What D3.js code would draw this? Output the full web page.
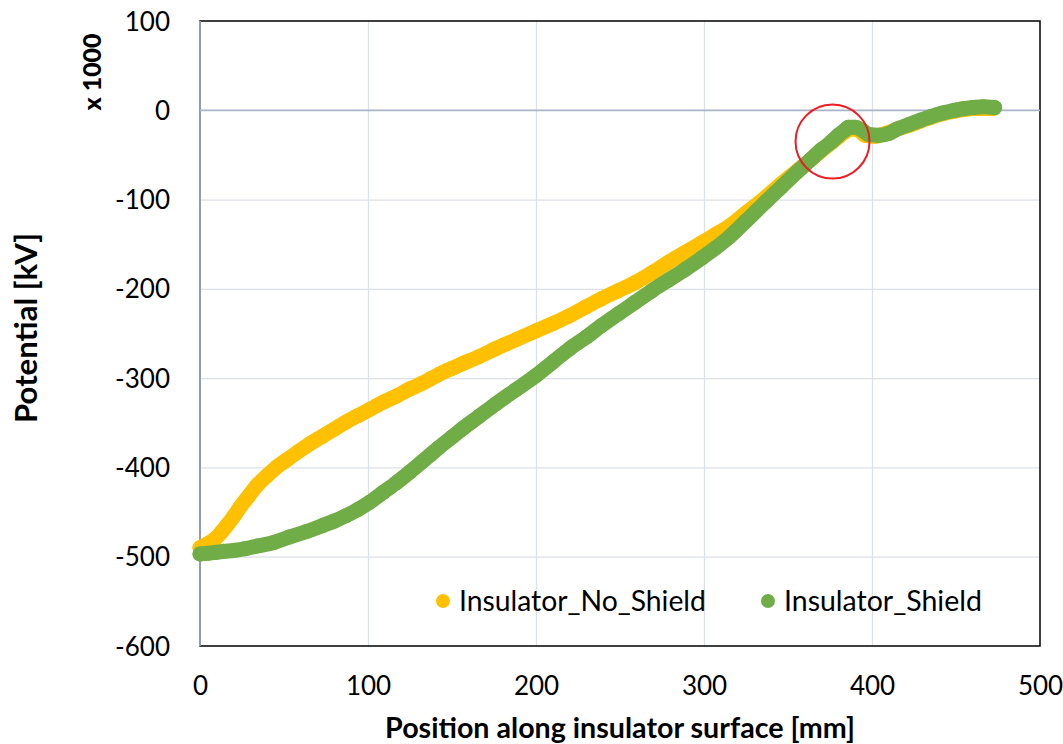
<!DOCTYPE html>
<html>
<head>
<meta charset="utf-8">
<script src="https://cdn.jsdelivr.net/npm/d3@7"></script>
<style>
  body { margin: 0; background: #fff; }
  text { font-family: Lato, "Open Sans", sans-serif; fill: #000; }
</style>
</head>
<body>
<div id="chartContainer"></div>
<script>
// series data, position [mm] and potential [kV x 1000]
let no_shield_x = [0, 4, 9, 13, 16, 20, 24, 29, 34, 40, 46, 52, 58, 65, 73, 80, 87, 94, 101, 109,
    117, 125, 132, 137, 142, 150, 156, 166, 176, 188, 200, 210, 220, 230, 239, 249, 259, 269, 279, 289,
    299, 307, 315, 325, 337, 345, 356, 363, 370, 376, 380, 384, 388, 392, 396, 402, 408, 415, 422, 429,
    435, 442, 449, 455, 460, 466, 472];
let no_shield_y = [-490, -486, -480, -472, -465, -455, -444, -432, -420, -409, -399, -391, -383, -374, -365, -357, -349, -342, -335, -327,
    -320, -312, -306, -301, -296, -289, -284, -276, -267, -257, -247, -239, -230, -220, -211, -202, -193, -182, -170, -159,
    -148, -139, -130, -115, -97, -84, -67, -56, -45, -36, -30, -24, -21, -22, -28, -29, -26, -21, -17, -12,
    -8, -4, -1, 1, 2, 2, 2];

let shield_x = [0, 5, 10, 14, 20, 27, 34, 44, 53, 63, 73, 80, 87, 94, 101, 109, 117, 125, 132, 137,
    142, 150, 156, 166, 176, 188, 200, 210, 220, 230, 239, 249, 259, 269, 279, 289, 299, 307, 315, 325,
    337, 346, 356, 363, 370, 376, 380, 384, 386, 390, 394, 398, 404, 410, 415, 422, 429, 435, 442, 449,
    455, 460, 466, 473];
let shield_y = [-497, -496, -495, -494, -493, -491, -488, -484, -478, -472, -465, -460, -454, -447, -439, -428, -417, -405, -394, -386,
    -378, -366, -357, -343, -329, -313, -297, -282, -267, -254, -241, -228, -215, -202, -190, -178, -165, -154, -142, -124,
    -102, -86, -68, -56, -44, -35, -28, -22, -19, -19, -22, -27, -28, -26, -21, -16, -11, -7, -3, 0,
    2, 3, 4, 3];

let series_names = ["Insulator_No_Shield", "Insulator_Shield"];
let series_colors = ["#FFC000", "#70AD47"];

// axis ticks
let x_ticks = [0, 100, 200, 300, 400, 500];
let y_ticks = [100, 0, -100, -200, -300, -400, -500, -600];

// highlighted point (red circle)
let mark_x = 376.5;
let mark_y = -35;

// chart properties
let BOX_WIDTH = 1063;
let BOX_HEIGHT = 744;
let LEFT = 200;
let RIGHT = 1040;
let TOP = 21;
let BOTTOM = 646;
let MARKER_R = 7.5;

const svg = d3.select("#chartContainer")
    .append("svg")
    .attr("width", BOX_WIDTH)
    .attr("height", BOX_HEIGHT);

const xScale = d3.scaleLinear()
    .domain([0, 500])
    .range([LEFT, RIGHT]);

const yScale = d3.scaleLinear()
    .domain([-600, 100])
    .range([BOTTOM, TOP]);

// scale a text's font size so it spans the wanted width
function fitText(sel, width) {
    let w = sel.node().getComputedTextLength();
    let fs = +sel.attr("font-size");
    sel.attr("font-size", fs * width / w);
    return sel;
}

// gridlines
const xGrid = d3.axisBottom(xScale)
    .tickValues(x_ticks.slice(1, -1))
    .tickSize(-(BOTTOM - TOP))
    .tickFormat("");
svg.append("g")
    .attr("transform", `translate(0, ${BOTTOM})`)
    .call(xGrid)
    .call(g => g.select(".domain").remove())
    .call(g => g.selectAll("line").attr("stroke", "#DCE0E7").attr("stroke-width", 1.3));

const yGrid = d3.axisLeft(yScale)
    .tickValues(y_ticks.filter(d => d != 0 && d != 100 && d != -600))
    .tickSize(-(RIGHT - LEFT))
    .tickFormat("");
svg.append("g")
    .attr("transform", `translate(${LEFT}, 0)`)
    .call(yGrid)
    .call(g => g.select(".domain").remove())
    .call(g => g.selectAll("line").attr("stroke", "#DCE0E7").attr("stroke-width", 1.3));

// plot area border
svg.append("rect")
    .attr("x", LEFT)
    .attr("y", TOP)
    .attr("width", RIGHT - LEFT)
    .attr("height", BOTTOM - TOP)
    .attr("fill", "none")
    .attr("stroke", "#000")
    .attr("stroke-width", 1.5);

// axis lines (y axis at x=0, x axis crossing at y=0)
svg.append("line")
    .attr("x1", xScale(0)).attr("x2", xScale(0))
    .attr("y1", TOP).attr("y2", BOTTOM)
    .attr("stroke", "#A9B4C8")
    .attr("stroke-width", 1.6);
svg.append("line")
    .attr("x1", LEFT).attr("x2", RIGHT)
    .attr("y1", yScale(0)).attr("y2", yScale(0))
    .attr("stroke", "#A9B4C8")
    .attr("stroke-width", 1.8);

// tick labels (plain hyphen for negatives)
const xAxis = d3.axisBottom(xScale).tickValues(x_ticks).tickSize(0).tickPadding(0).tickFormat(d => String(d));
svg.append("g")
    .attr("transform", `translate(0, ${BOTTOM + 49})`)
    .call(xAxis)
    .call(g => g.select(".domain").remove())
    .call(g => g.selectAll("text").attr("font-size", 26).attr("dy", 0).attr("font-family", "Lato"));

const yAxis = d3.axisLeft(yScale).tickValues(y_ticks).tickSize(0).tickPadding(30).tickFormat(d => String(d));
svg.append("g")
    .attr("transform", `translate(${LEFT}, 0)`)
    .call(yAxis)
    .call(g => g.select(".domain").remove())
    .call(g => g.selectAll("text").attr("font-size", 26).attr("dy", "0.35em").attr("font-family", "Lato"));

// axis titles
fitText(svg.append("text")
    .attr("x", 620)
    .attr("y", 738)
    .attr("text-anchor", "middle")
    .attr("font-size", 25)
    .attr("font-weight", "bold")
    .text("Position along insulator surface [mm]"), 470);

fitText(svg.append("text")
    .attr("transform", "translate(37, 328) rotate(-90)")
    .attr("text-anchor", "middle")
    .attr("font-size", 25)
    .attr("font-weight", "bold")
    .text("Potential [kV]"), 190);

fitText(svg.append("text")
    .attr("transform", "translate(101, 72) rotate(-90)")
    .attr("text-anchor", "middle")
    .attr("font-size", 25)
    .attr("font-weight", 900)
    .text("x 1000"), 77);

// series drawing
const line = d3.line()
    .x(d => xScale(d.x))
    .y(d => yScale(d.y))
    .curve(d3.curveMonotoneX);

function drawSeries(xs, ys, color) {
    let pts = xs.map((x, i) => ({ x: x, y: ys[i] }));
    svg.append("path")
        .datum(pts)
        .attr("fill", "none")
        .attr("stroke", color)
        .attr("stroke-width", MARKER_R * 2)
        .attr("stroke-linejoin", "round")
        .attr("stroke-linecap", "round")
        .attr("d", line);
    svg.append("g")
        .selectAll("circle")
        .data(pts)
        .join("circle")
        .attr("cx", d => xScale(d.x))
        .attr("cy", d => yScale(d.y))
        .attr("r", MARKER_R)
        .attr("fill", color);
}

drawSeries(no_shield_x, no_shield_y, series_colors[0]);
drawSeries(shield_x, shield_y, series_colors[1]);

// red circle marking the bump
svg.append("circle")
    .attr("cx", xScale(mark_x))
    .attr("cy", yScale(mark_y))
    .attr("r", 37)
    .attr("fill", "none")
    .attr("stroke", "#EE1C25")
    .attr("stroke-width", 2);

// legend
let legend_x = [443, 768];
let legend_w = [247, 198];
series_names.forEach((name, i) => {
    svg.append("circle")
        .attr("cx", legend_x[i])
        .attr("cy", 601)
        .attr("r", 7)
        .attr("fill", series_colors[i]);
    fitText(svg.append("text")
        .attr("x", legend_x[i] + 16)
        .attr("y", 601)
        .attr("dy", "0.35em")
        .attr("font-size", 24)
        .text(name), legend_w[i]);
});
</script>
</body>
</html>
